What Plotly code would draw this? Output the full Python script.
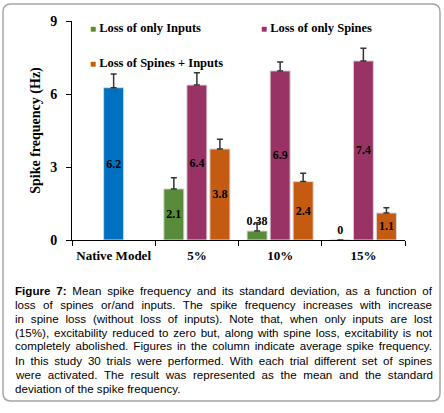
import plotly.graph_objects as go

# data
categories = ["Native Model", "5%", "10%", "15%"]
series_names = ["Loss of only Inputs", "Loss of only Spines", "Loss of Spines + Inputs"]

inputs_vals = [None, 2.1, 0.37, 0]
inputs_err = [None, 0.46, 0.34, None]
inputs_text = ["", "2.1", "0.38", "0"]

spines_vals = [6.26, 6.37, 6.95, 7.36]
spines_err = [0.56, 0.5, 0.37, 0.52]
spines_text = ["6.2", "6.4", "6.9", "7.4"]

both_vals = [None, 3.74, 2.4, 1.11]
both_err = [None, 0.4, 0.34, 0.22]
both_text = ["", "3.8", "2.4", "1.1"]

caption_lines = [
    "<b>Figure 7:</b> Mean spike frequency and its standard deviation, as a function of",
    "loss of spines or/and inputs. The spike frequency increases with increase",
    "in spine loss (without loss of inputs). Note that, when only inputs are lost",
    "(15%), excitability reduced to zero but, along with spine loss, excitability is not",
    "completely abolished. Figures in the column indicate average spike frequency.",
    "In this study 30 trials were performed. With each trial different set of spines",
    "were activated. The result was represented as the mean and the standard",
    "deviation of the spike frequency.",
]

GREEN = "#588c3a"
PURPLE = "#993366"
ORANGE = "#c55a11"
BLUE = "#0070c0"
SERIF = "Liberation Serif"

W, H = 444, 413
L, R, T, B = 72, 39, 21, 173
pw, ph = W - L - R, H - T - B


def xp(px):
    return (px - L) / pw


def yp(py):
    return (H - B - py) / ph


def err(vals):
    return dict(type="data", array=vals, arrayminus=[0] * len(vals), symmetric=False,
                color="#333333", thickness=1.5, width=3)


lbl_font = dict(family=SERIF, size=12, color="black", weight="bold")

fig = go.Figure()
fig.add_bar(x=categories, y=inputs_vals, name=series_names[0], marker_color=GREEN,
            error_y=err(inputs_err), text=inputs_text,
            textposition=["inside", "inside", "outside", "outside"])
fig.add_bar(x=categories, y=spines_vals, name=series_names[1],
            marker_color=[BLUE, PURPLE, PURPLE, PURPLE],
            error_y=err(spines_err), text=spines_text, textposition="inside")
fig.add_bar(x=categories, y=both_vals, name=series_names[2], marker_color=ORANGE,
            error_y=err(both_err), text=both_text, textposition="inside")
fig.update_traces(marker_line=dict(color="#d9d9d9", width=1), textfont=lbl_font,
                  textangle=0, insidetextanchor="middle", constraintext="none",
                  cliponaxis=False, showlegend=False)

# legend drawn as text, like the original
leg = [(series_names[0], GREEN, 88, 28), (series_names[1], PURPLE, 259, 28),
       (series_names[2], ORANGE, 88, 63)]
for name, col, px, py in leg:
    fig.add_annotation(x=xp(px), y=yp(py), xref="paper", yref="paper",
                       xanchor="left", yanchor="middle", showarrow=False,
                       text=f"<span style='color:{col};font-size:10px'>■</span> {name}",
                       font=dict(family=SERIF, size=12.5, color="black", weight="bold"))

cap_start = len(fig.layout.annotations)
for i, line in enumerate(caption_lines):
    fig.add_annotation(x=xp(13), y=yp(290 + 14 * i), xref="paper", yref="paper",
                       xanchor="left", yanchor="middle", showarrow=False, text=line,
                       font=dict(family="Liberation Sans", size=11.6, color="black"))

# rounded frame round chart + caption
x0, x1, y0, y1, r = 3, 440, 4, 401, 8
pts = (f"M {xp(x0 + r)},{yp(y0)} L {xp(x1 - r)},{yp(y0)} Q {xp(x1)},{yp(y0)} {xp(x1)},{yp(y0 + r)} "
       f"L {xp(x1)},{yp(y1 - r)} Q {xp(x1)},{yp(y1)} {xp(x1 - r)},{yp(y1)} "
       f"L {xp(x0 + r)},{yp(y1)} Q {xp(x0)},{yp(y1)} {xp(x0)},{yp(y1 - r)} "
       f"L {xp(x0)},{yp(y0 + r)} Q {xp(x0)},{yp(y0)} {xp(x0 + r)},{yp(y0)} Z")
fig.add_shape(type="path", path=pts, xref="paper", yref="paper",
              line=dict(color="#a6a6a6", width=1.5))

fig.update_layout(
    width=W, height=H, margin=dict(l=L, r=R, t=T, b=B),
    paper_bgcolor="white", plot_bgcolor="white",
    barmode="group", bargap=0.17, bargroupgap=0.13,
    font=dict(family=SERIF, color="black"),
)
fig.update_xaxes(showline=True, linecolor="black", linewidth=1, ticks="outside",
                 tickson="boundaries", ticklen=5, tickcolor="black", tickangle=0,
                 ticklabelstandoff=3,
                 tickfont=dict(family=SERIF, size=13, weight="bold"))
fig.update_yaxes(range=[0, 9], tickvals=[0, 3, 6, 9], showgrid=False, zeroline=False,
                 showline=True, linecolor="black", linewidth=1, ticks="outside",
                 ticklen=5, tickcolor="black", ticklabelstandoff=6,
                 tickfont=dict(family=SERIF, size=14, weight="bold"),
                 title=dict(text="Spike frequency (Hz)", standoff=6,
                            font=dict(family=SERIF, size=14, weight="bold")))

# body has an 8px default margin - drop it; then justify caption lines (not the last)
js = """
document.body.style.margin = '0';
var target = 417;
for (var i = %d; i < %d; i++) {
    var t = document.querySelector('g.annotation[data-index="' + i + '"] text.annotation-text');
    if (!t) continue;
    var gaps = t.textContent.split(' ').length - 1;
    var w = t.getComputedTextLength();
    if (gaps < 1 || w >= target) continue;
    var left0 = t.getBoundingClientRect().left;
    t.setAttribute('word-spacing', (target - w) / gaps);
    var left1 = t.getBoundingClientRect().left;
    t.setAttribute('x', parseFloat(t.getAttribute('x') || 0) + (left0 - left1));
}
""" % (cap_start, cap_start + len(caption_lines) - 1)

fig.write_html("out.html", post_script=js, config={"displayModeBar": False})
